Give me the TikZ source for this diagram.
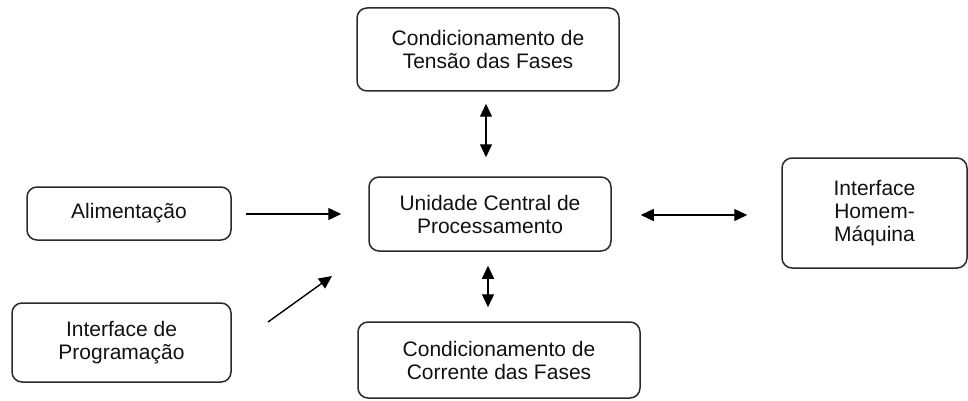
\documentclass[tikz,border=0pt]{standalone}
\usepackage{fontspec}
\setmainfont{Liberation Sans}
\usetikzlibrary{arrows.meta}
\definecolor{linec}{HTML}{2A2A2A}
\definecolor{textc}{HTML}{111111}
\begin{document}
\begin{tikzpicture}[x=1pt,y=-1pt,
  blk/.style={draw=linec, line width=1.5pt, rounded corners=10pt, align=center,
    font=\fontsize{21}{23}\selectfont, text=textc, inner sep=0pt},
  conn/.style={draw=black, line width=1.4pt},
  tip/.style={-{Triangle[length=13pt,width=12pt]}},
  dtip/.style={{Triangle[length=13pt,width=12pt]}-{Triangle[length=13pt,width=12pt]}}]
\useasboundingbox (0,0) rectangle (968,401);

\node[blk, minimum width=262pt, minimum height=83pt] (top) at (488,49.5) {Condicionamento de\\Tensão das Fases};
\node[blk, minimum width=242pt, minimum height=74pt] (cpu) at (490,214) {Unidade Central de\\Processamento};
\node[blk, minimum width=204pt, minimum height=53pt] (ali) at (129,213.5) {Alimentação};
\node[blk, minimum width=219pt, minimum height=79pt] (prog) at (121.5,342.5) {Interface de\\Programação};
\node[blk, minimum width=282pt, minimum height=76pt] (bot) at (499,360) {Condicionamento de\\Corrente das Fases};
\node[blk, minimum width=185pt, minimum height=110pt] (ihm) at (874.5,213) {Interface\\Homem-\\Máquina};

\coordinate (p1) at (268,322);
\coordinate (p2) at (332,276);

% Alimentacao -> CPU
\draw[conn, tip, shorten <=14pt, shorten >=27pt] (ali.east |- 0,214) -- (cpu.west |- 0,214);
% Programacao -> CPU
\draw[conn, tip] (p1) -- (p2);
% Top <-> CPU
\draw[conn, dtip, shorten <=12pt, shorten >=19pt] (top.south -| 486,0) -- (cpu.north -| 486,0);
% CPU <-> Bottom
\draw[conn, dtip, shorten <=14pt, shorten >=14pt] (cpu.south -| 488,0) -- (bot.north -| 488,0);
% CPU <-> IHM
\draw[conn, dtip, shorten <=29pt, shorten >=34pt] (cpu.east |- 0,215) -- (ihm.west |- 0,215);
\end{tikzpicture}
\end{document}
